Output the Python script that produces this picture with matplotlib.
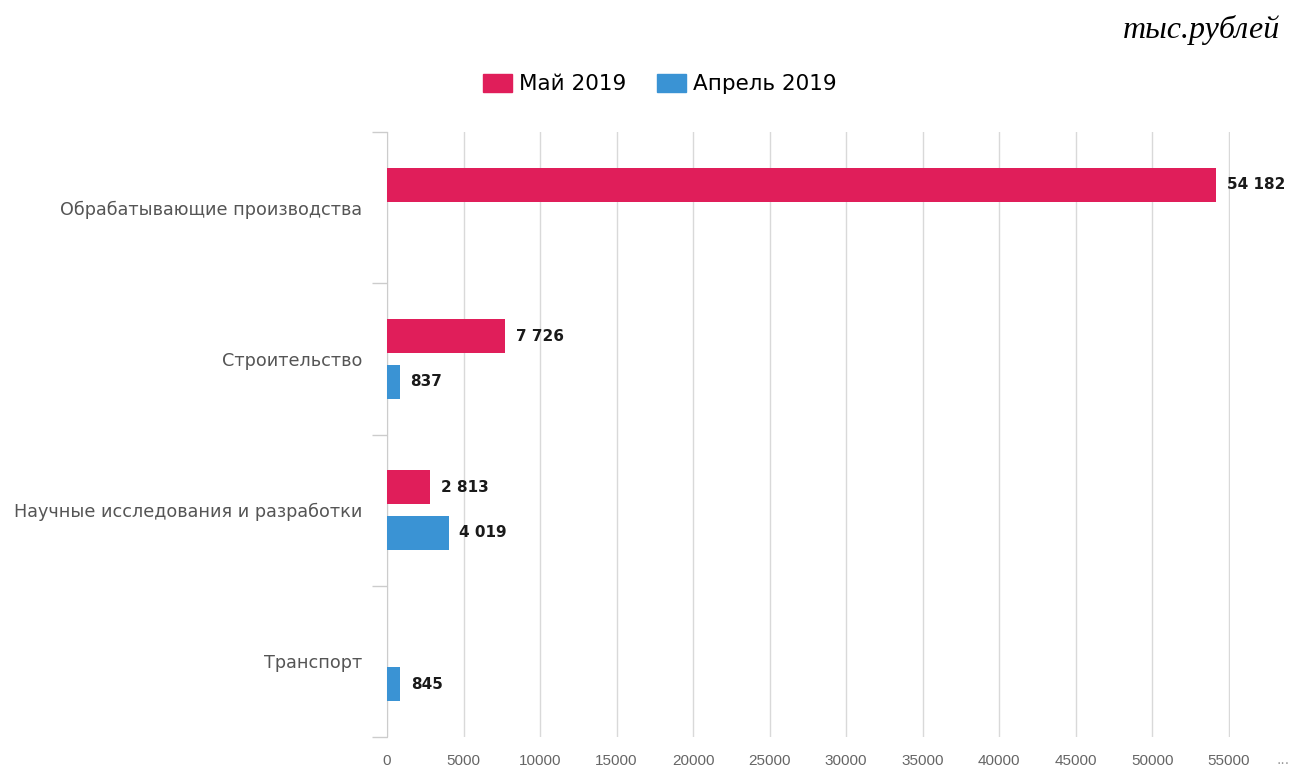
import matplotlib
matplotlib.use("Agg")
import matplotlib.pyplot as plt
import numpy as np
from matplotlib.patches import Patch

categories = ["Обрабатывающие производства", "Строительство",
              "Научные исследования и разработки", "Транспорт"]
may_2019 = [54182, 7726, 2813, None]
apr_2019 = [None, 837, 4019, 845]
series_names = ["Май 2019", "Апрель 2019"]
xticks = list(range(0, 55001, 5000))

c_may = "#E01E5A"
c_apr = "#3A93D4"

fig = plt.figure(figsize=(12.98, 7.72), dpi=100)
ax = fig.add_axes([387/1298, 1-737/772, (1230-387)/1298, (737-132)/772])

n = len(categories)
ypos = np.arange(n)
bh = 0.225
off = 0.15

def fmt(v):
    return f"{v:,}".replace(",", " ")

for i in range(n):
    for vals, c, d in ((may_2019, c_may, -off), (apr_2019, c_apr, off)):
        v = vals[i]
        if v is None:
            continue
        ax.barh(ypos[i] + d, v, height=bh, color=c, zorder=3)
        ax.text(v + 700, ypos[i] + d, fmt(v), va="center", ha="left",
                fontsize=11, fontweight="bold", color="#1a1a1a",
                family="DejaVu Sans")

ax.set_ylim(n - 0.5, -0.5)
ax.set_xlim(0, 55080)
ax.set_yticks(ypos)
ax.set_yticklabels(categories, fontsize=12.7, color="#555555", family="DejaVu Sans")
ax.set_yticks(np.arange(-0.5, n, 1), minor=True)
ax.tick_params(axis="y", which="major", length=0, pad=18)
ax.tick_params(axis="y", which="minor", length=11, color="#cccccc", width=1)

ax.set_xticks(xticks)
ax.set_xticklabels([str(t) for t in xticks], fontsize=11, color="#666666",
                   family="Liberation Sans")
ax.tick_params(axis="x", length=0, pad=12)
ax.grid(axis="x", color="#d9d9d9", linewidth=1, zorder=0)
for s in ["top", "right", "bottom"]:
    ax.spines[s].set_visible(False)
ax.spines["left"].set_color("#cccccc")

fig.text(1283/1298, 1-760/772, "...", fontsize=10, color="#999999",
         ha="center", va="center")

handles = [Patch(color=c_may), Patch(color=c_apr)]
fig.legend(handles, series_names, loc="center", bbox_to_anchor=(660/1298, 1-84/772),
           ncol=2, frameon=False, handlelength=1.35, handleheight=0.95,
           columnspacing=1.4, handletextpad=0.35,
           prop={"family": "DejaVu Sans", "size": 15.5})

fig.text(1280/1298, 1-30/772, "тыс.рублей", fontsize=23, style="italic",
         family="Liberation Serif", ha="right", va="center")

fig.savefig("out.png", dpi=100, facecolor="white")
